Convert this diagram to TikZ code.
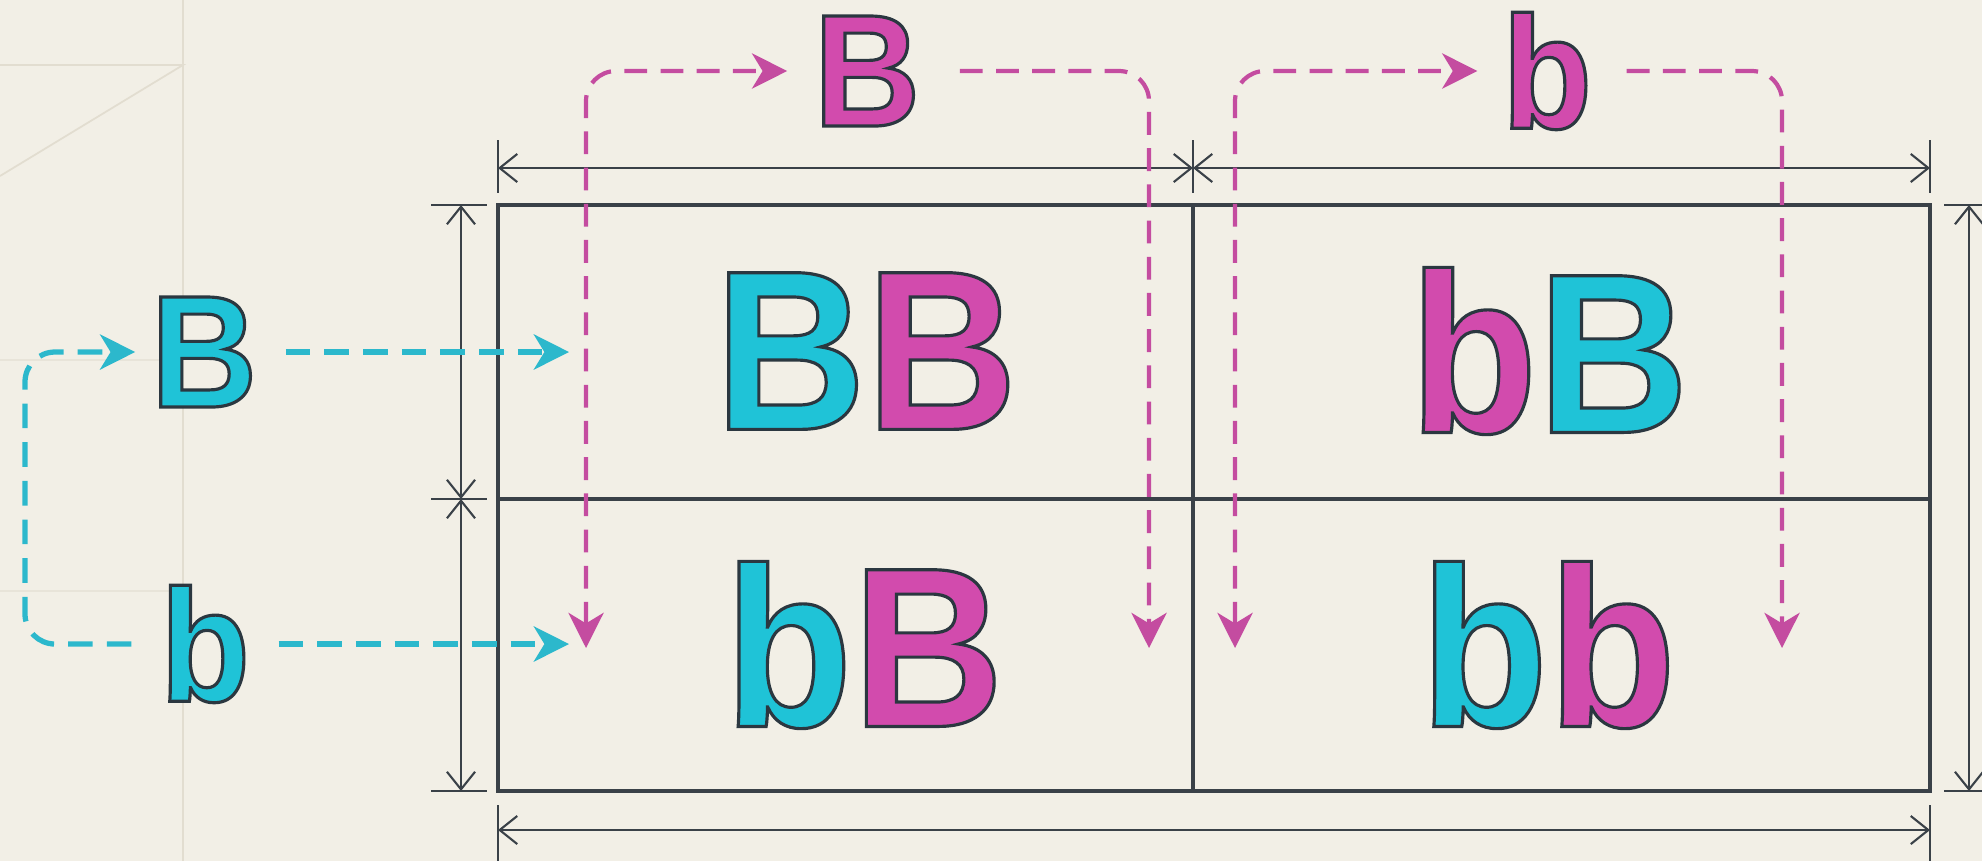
\documentclass[tikz,border=0pt]{standalone}
\usepackage{fontspec}
\usetikzlibrary{arrows.meta}
\newfontfamily\labfont[FakeStretch=0.92]{Liberation Sans}
\definecolor{paper}{HTML}{F2EFE6}
\definecolor{faint}{HTML}{E2DDD0}
\definecolor{cyn}{HTML}{1FC3D7}
\definecolor{mag}{HTML}{D24BAD}
\definecolor{cyndash}{HTML}{2CB8CC}
\definecolor{magdash}{HTML}{C44CA0}
\definecolor{ink}{HTML}{3A4148}
\newcommand\olin[1]{\special{pdf:literal direct 2 Tr 0.9 w 0.169 0.216 0.251 RG}#1\special{pdf:literal direct 0 Tr}}
\newcommand\cyl[1]{\textcolor{cyn}{\olin{#1}}}
\newcommand\mgl[1]{\textcolor{mag}{\olin{#1}}}
\begin{document}
\begin{tikzpicture}[x=0.1mm, y=-0.1mm,
    >={Stealth[length=10pt,width=10pt,inset=3pt]},
    grid/.style={draw=ink, line width=1pt},
    dim/.style={draw=ink, line width=0.6pt,
      {Straight Barb[length=5pt,width=8pt]}-{Straight Barb[length=5pt,width=8pt]}},
    ext/.style={draw=ink, line width=0.6pt},
    big/.style={inner sep=0pt, font=\labfont\bfseries\fontsize{64.8}{70}\selectfont},
    lab/.style={inner sep=0pt, font=\labfont\bfseries\fontsize{45.5}{50}\selectfont},
    cyanflow/.style={draw=cyndash, line width=1.5pt, dash pattern=on 7pt off 4pt, rounded corners=3mm},
    magflow/.style={draw=magdash, line width=1.2pt, dash pattern=on 6.5pt off 3.8pt, rounded corners=3mm}]
    \path[use as bounding box, fill=paper] (0,0) rectangle (1982,861);
    \draw[faint, line width=0.5pt] (183,0) -- (183,861);
    \draw[faint, line width=0.5pt] (0,65) -- (183,65) -- (0,176);
    \draw[faint!60!paper, line width=0.4pt] (0,360) -- (183,360) (0,591) -- (183,591);

    \draw[grid] (498,205) rectangle (1930,791);
    \draw[grid] (1193,205) -- (1193,791);
    \draw[grid] (498,499) -- (1930,499);

    \draw[dim] (498,168) -- (1193,168);
    \draw[dim] (1193,168) -- (1930,168);
    \draw[ext] (498,140) -- (498,193) (1193,140) -- (1193,193) (1930,140) -- (1930,193);
    \draw[dim] (461,205) -- (461,499);
    \draw[dim] (461,499) -- (461,791);
    \draw[ext] (431,205) -- (487,205) (431,499) -- (487,499) (431,791) -- (487,791);
    \draw[dim] (1969,205) -- (1969,791);
    \draw[ext] (1944,205) -- (1982,205) (1944,791) -- (1982,791);
    \draw[dim] (498,830) -- (1930,830);
    \draw[ext] (498,805) -- (498,861) (1930,805) -- (1930,861);

    \node[lab] (pB) at (867,71) {\mgl{B}};
    \node[lab] (pb) at (1547,71) {\mgl{b}};
    \node[lab] (cB) at (204,352) {\cyl{B}};
    \node[lab] (cb) at (205,644) {\cyl{b}};

    \node[big] (BB) at (866,351) {\cyl{B}\mgl{B}};
    \node[big] (bBtop) at (1549,351) {\mgl{b}\cyl{B}};
    \node[big] (bBbot) at (864,645) {\cyl{b}\mgl{B}};
    \node[big] (bb) at (1548,645) {\cyl{b}\mgl{b}};

    \coordinate (Bin) at (569,352);
    \coordinate (bin) at (569,644);
    \coordinate (loop) at (25,500);
    \coordinate (mBa) at (586,648);
    \coordinate (mBb) at (1149,648);
    \coordinate (mba) at (1235,648);
    \coordinate (mbb) at (1782,648);

    \draw[cyanflow, ->, shorten <=2.8mm] (cB) -- (Bin);
    \draw[cyanflow, ->, shorten <=2.8mm] (cb) -- (bin);
    \draw[cyanflow, ->, shorten <=2.8mm, shorten >=1.5mm] (cb.west) -| (loop) |- (cB.west);

    \draw[magflow, <->, shorten >=2.6mm] (mBa) |- (pB);
    \draw[magflow, ->, shorten <=3.9mm] (pB) -| (mBb);
    \draw[magflow, <->, shorten >=2.4mm] (mba) |- (pb);
    \draw[magflow, ->, shorten <=3.4mm] (pb) -| (mbb);
\end{tikzpicture}
\end{document}
